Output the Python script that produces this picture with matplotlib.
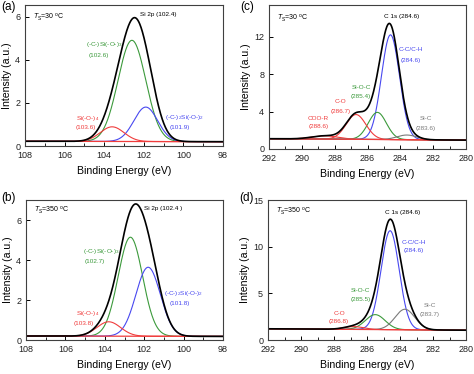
"""XPS Si 2p and C 1s peak fits at two substrate temperatures."""

import matplotlib.pyplot as plt
import numpy as np

plt.rcParams["font.family"] = ["Liberation Sans", "DejaVu Sans"]
plt.rcParams["mathtext.fontset"] = "custom"
plt.rcParams["mathtext.rm"] = "Liberation Sans"
plt.rcParams["mathtext.it"] = "Liberation Sans:italic"

# Fitted peak parameters: (center eV, amplitude, sigma eV)
SI_30_PEAKS = {
    "green": (102.6, 4.70, 0.70),
    "blue": (101.9, 1.60, 0.60),
    "red": (103.6, 0.68, 0.60),
}
SI_350_PEAKS = {
    "green": (102.7, 4.95, 0.62),
    "blue": (101.8, 3.45, 0.62),
    "red": (103.8, 0.72, 0.60),
}
C_30_PEAKS = {
    "blue": (284.6, 11.2, 0.55),
    "green": (285.4, 2.90, 0.55),
    "red": (286.7, 2.65, 0.60),
    "red2": (288.6, 0.35, 0.80),
    "gray": (283.6, 0.50, 0.60),
}
C_350_PEAKS = {
    "blue": (284.6, 10.6, 0.55),
    "green": (285.5, 1.60, 0.60),
    "red": (286.8, 0.30, 0.60),
    "gray": (283.7, 2.20, 0.60),
}

# Linear background: (value at high BE end, value at low BE end)
SI_30_BG = (0.22, 0.20)
SI_350_BG = (0.20, 0.18)
C_30_BG = (1.10, 0.95)
C_350_BG = (1.20, 1.05)

SI_RANGE = (108, 98)
C_RANGE = (292, 280)

COLORS = {
    "green": "#3c9a3c",
    "blue": "#4848f0",
    "red": "#f03c3c",
    "red2": "#f03c3c",
    "gray": "#7a7a7a",
}


def gaussian(x, center, amp, sigma):
    return amp * np.exp(-((x - center) ** 2) / (2 * sigma**2))


def draw_panel(ax, xrange, peaks, bg, ylim, yticks):
    x = np.linspace(xrange[0], xrange[1], 600)
    base = np.interp(x, [xrange[1], xrange[0]], [bg[1], bg[0]])
    total = base.copy()
    for key, (c, a, s) in peaks.items():
        comp = gaussian(x, c, a, s)
        total += comp
        ax.plot(x, base + comp, color=COLORS[key], lw=0.8)
    ax.plot(x, base, color=COLORS["red"], lw=0.9)
    ax.plot(x, total, color="black", lw=1.2)

    ax.set_xlim(xrange)
    ax.set_ylim(ylim)
    ax.set_yticks(yticks)
    step = 2
    ax.set_xticks(np.arange(xrange[1], xrange[0] + 0.1, step))
    ax.set_xticks(np.arange(xrange[1] + 1, xrange[0], step), minor=True)
    ax.tick_params(direction="in", labelsize=6.5, length=3, width=0.7,
                   labelcolor="#222222")
    ax.tick_params(which="minor", direction="in", length=2, width=0.6)
    ax.tick_params(axis="x", pad=3.5)
    ax.tick_params(axis="y", pad=3.5)
    for sp in ax.spines.values():
        sp.set_color("#404040")
        sp.set_linewidth(0.8)
    ax.set_xlabel("Binding Energy (eV)", fontsize=7.6, labelpad=4.5)
    ax.set_ylabel("Intensity (a.u.)", fontsize=7.6, labelpad=2.5)


def label(ax, x, y, text, color="black", ha="center"):
    ax.text(x, y, text, color=color, fontsize=4.6, ha=ha, va="center")


fig = plt.figure(figsize=(4.74, 3.74), dpi=100)
W, H = 474, 374


def add_axes(left, right, top, bottom):
    return fig.add_axes([left / W, 1 - bottom / H, (right - left) / W, (bottom - top) / H])


ax_a = add_axes(25, 223, 5, 146)
ax_c = add_axes(269, 466, 5, 149)
ax_b = add_axes(26, 223, 200, 340)
ax_d = add_axes(268, 466, 200, 340)

# (a)
draw_panel(ax_a, SI_RANGE, SI_30_PEAKS, SI_30_BG, (0, 6.55), [0, 2, 4, 6])
ax_a.text(107.6, 5.97, r"$T_{\rm S}$=30 $^{\rm o}$C", fontsize=5, va="center")
label(ax_a, 102.2, 6.12, "Si 2p (102.4)", ha="left")
label(ax_a, 104.92, 4.73, "(-C-)Si(-O-)$_3$", COLORS["green"], ha="left")
label(ax_a, 104.8, 4.19, "(102.6)", COLORS["green"], ha="left")
label(ax_a, 104.85, 1.30, "Si(-O-)$_4$", COLORS["red"])
label(ax_a, 104.95, 0.85, "(103.6)", COLORS["red"])
label(ax_a, 100.92, 1.32, "(-C-)$_2$Si(-O-)$_2$", COLORS["blue"], ha="left")
label(ax_a, 100.2, 0.88, "(101.9)", COLORS["blue"])

# (b)
draw_panel(ax_b, SI_RANGE, SI_350_PEAKS, SI_350_BG, (0, 7), [0, 2, 4, 6])
ax_b.text(107.6, 6.47, r"$T_{\rm S}$=350 $^{\rm o}$C", fontsize=5, va="center")
label(ax_b, 102.0, 6.58, "Si 2p (102.4 )", ha="left")
label(ax_b, 105.12, 4.45, "(-C-)Si(-O-)$_3$", COLORS["green"], ha="left")
label(ax_b, 105.0, 3.92, "(102.7)", COLORS["green"], ha="left")
label(ax_b, 104.85, 1.33, "Si(-O-)$_4$", COLORS["red"])
label(ax_b, 105.05, 0.83, "(103.8)", COLORS["red"])
label(ax_b, 100.97, 2.30, "(-C-)$_2$Si(-O-)$_2$", COLORS["blue"], ha="left")
label(ax_b, 100.2, 1.80, "(101.8)", COLORS["blue"])

# (c)
draw_panel(ax_c, C_RANGE, C_30_PEAKS, C_30_BG, (0, 15.4), [0, 4, 8, 12])
ax_c.text(291.5, 13.96, r"$T_{\rm S}$=30 $^{\rm o}$C", fontsize=5, va="center")
label(ax_c, 285.0, 14.2, "C 1s (284.6)", ha="left")
label(ax_c, 283.35, 10.6, "C-C/C-H", COLORS["blue"])
label(ax_c, 283.35, 9.5, "(284.6)", COLORS["blue"])
label(ax_c, 286.4, 6.6, "Si-O-C", COLORS["green"])
label(ax_c, 286.4, 5.6, "(285.4)", COLORS["green"])
label(ax_c, 287.65, 5.06, "C-O", COLORS["red"])
label(ax_c, 287.65, 4.0, "(286.7)", COLORS["red"])
label(ax_c, 289.0, 3.28, "COO-R", COLORS["red"])
label(ax_c, 289.0, 2.4, "(288.6)", COLORS["red"])
label(ax_c, 282.45, 3.28, "Si-C", COLORS["gray"])
label(ax_c, 282.45, 2.2, "(283.6)", COLORS["gray"])

# (d)
draw_panel(ax_d, C_RANGE, C_350_PEAKS, C_350_BG, (0, 15), [0, 5, 10, 15])
ax_d.text(291.5, 13.8, r"$T_{\rm S}$=350 $^{\rm o}$C", fontsize=5, va="center")
label(ax_d, 284.9, 13.7, "C 1s (284.6)", ha="left")
label(ax_d, 283.15, 10.5, "C-C/C-H", COLORS["blue"])
label(ax_d, 283.15, 9.6, "(284.6)", COLORS["blue"])
label(ax_d, 286.4, 5.33, "Si-O-C", COLORS["green"])
label(ax_d, 286.4, 4.34, "(285.5)", COLORS["green"])
label(ax_d, 287.7, 2.84, "C-O", COLORS["red"])
label(ax_d, 287.7, 1.96, "(286.8)", COLORS["red"])
label(ax_d, 282.2, 3.73, "Si-C", COLORS["gray"])
label(ax_d, 282.2, 2.74, "(283.7)", COLORS["gray"])

for txt, (px, py) in zip(["(a)", "(c)", "(b)", "(d)"],
                         [(1, 7), (240, 7), (1, 198), (239, 198)]):
    fig.text(px / W, 1 - py / H, txt, fontsize=8.5, va="center", ha="left")

fig.savefig("out.png", dpi=100)
